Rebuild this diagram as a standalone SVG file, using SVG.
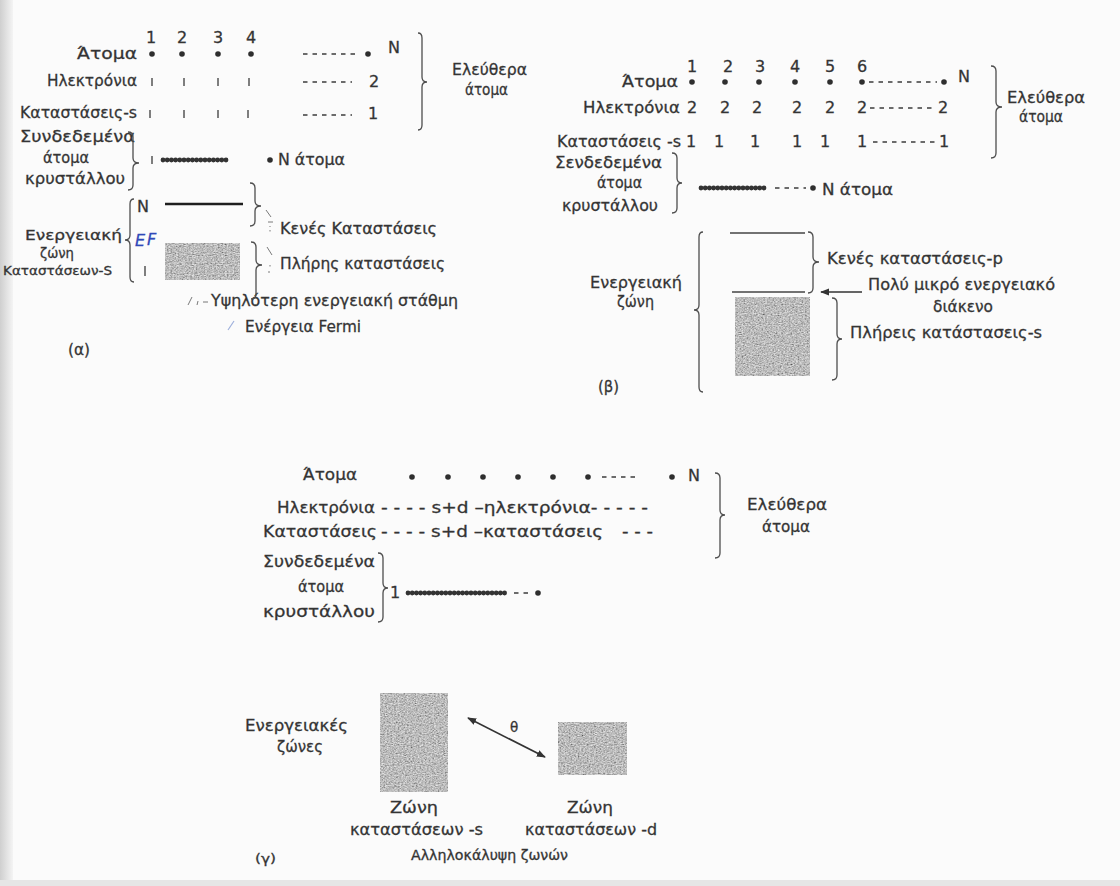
<svg xmlns="http://www.w3.org/2000/svg" width="1120" height="886" viewBox="0 0 1120 886">
  <style>
    text { font-family: "DejaVu Sans", "Liberation Sans", sans-serif; fill: #333; font-size: 16px; stroke: #3a3a3a; stroke-width: 0.3; }
    .sm { font-size: 12px; }
    .md { font-size: 14px; }
    .lab { font-size: 13.5px; }
    .num { text-anchor: middle; }
    .brace { fill: none; stroke: #4d4d4d; stroke-width: 1.3; }
    .tick { stroke: #555; stroke-width: 1.5; }
    .dash { stroke: #3d3d3d; stroke-width: 1.7; stroke-dasharray: 4.5 5; }
    .beads { stroke: #333; stroke-width: 4.8; stroke-linecap: round; stroke-dasharray: 0 4.2; }
    .dot { fill: #2e2e2e; }
    .level { stroke: #444; stroke-width: 1.3; }
    .pencil { stroke: #7a7a7a; stroke-width: 1; fill: none; }
    .ink { fill: #3048b8; stroke: #3048b8; font-style: italic; }
    .band { fill: #808080; }
  </style>
  <defs>
    <filter id="grain" x="0" y="0" width="100%" height="100%">
      <feTurbulence type="fractalNoise" baseFrequency="0.55 0.9" numOctaves="2" seed="7" result="n"/>
      <feColorMatrix in="n" type="saturate" values="0" result="g"/>
      <feComponentTransfer in="g" result="c">
        <feFuncR type="linear" slope="1.2" intercept="-0.1"/>
        <feFuncG type="linear" slope="1.2" intercept="-0.1"/>
        <feFuncB type="linear" slope="1.2" intercept="-0.1"/>
        <feFuncA type="linear" slope="0" intercept="1"/>
      </feComponentTransfer>
      <feComposite in="c" in2="SourceGraphic" operator="in"/>
    </filter>
    <marker id="head" viewBox="0 0 10 10" refX="9" refY="5" markerWidth="9" markerHeight="9" markerUnits="userSpaceOnUse" orient="auto-start-reverse">
      <path d="M0,1 L10,5 L0,9 Z" fill="#333"/>
    </marker>
    <linearGradient id="edge" x1="0" y1="0" x2="1" y2="0">
      <stop offset="0" stop-color="#cfcfcf"/>
      <stop offset="1" stop-color="#f4f4f4"/>
    </linearGradient>
  </defs>

  <!-- paper -->
  <rect x="0" y="0" width="1120" height="886" fill="#fbfbfb"/>
  <rect x="0" y="0" width="13" height="886" fill="url(#edge)"/>
  <rect x="0" y="880" width="1120" height="6" fill="#e6e6e6"/>

  <!-- ===== (α) free atoms of a single-electron s shell ===== -->
  <g id="a-atoms">
    <text class="num" x="151" y="43">1</text>
    <text class="num" x="182" y="43">2</text>
    <text class="num" x="218" y="43">3</text>
    <text class="num" x="251" y="43">4</text>
    <text x="77" y="59" textLength="60" lengthAdjust="spacingAndGlyphs">Άτομα</text>
    <circle class="dot" cx="152" cy="54" r="2.8"/>
    <circle class="dot" cx="182" cy="54" r="2.8"/>
    <circle class="dot" cx="218" cy="54" r="2.8"/>
    <circle class="dot" cx="251" cy="54" r="2.8"/>
    <line class="dash" x1="303" y1="54" x2="358" y2="54"/>
    <circle class="dot" cx="368" cy="54" r="2.8"/>
    <text x="388" y="53">N</text>
  </g>
  <g id="a-electrons">
    <text x="47" y="86" textLength="90" lengthAdjust="spacingAndGlyphs">Ηλεκτρόνια</text>
    <line class="tick" x1="152" y1="78" x2="152" y2="86"/>
    <line class="tick" x1="184" y1="78" x2="184" y2="86"/>
    <line class="tick" x1="218" y1="78" x2="218" y2="86"/>
    <line class="tick" x1="249" y1="78" x2="249" y2="86"/>
    <line class="dash" x1="303" y1="82" x2="352" y2="82"/>
    <text class="num" x="374" y="87">2</text>
  </g>
  <g id="a-states">
    <text x="20" y="118" textLength="117" lengthAdjust="spacingAndGlyphs">Καταστάσεις-s</text>
    <line class="tick" x1="150" y1="110" x2="150" y2="118"/>
    <line class="tick" x1="184" y1="110" x2="184" y2="118"/>
    <line class="tick" x1="218" y1="110" x2="218" y2="118"/>
    <line class="tick" x1="248" y1="110" x2="248" y2="118"/>
    <line class="dash" x1="303" y1="115" x2="352" y2="115"/>
    <text class="num" x="373" y="119">1</text>
  </g>
  <g id="a-free">
    <text x="452" y="75" textLength="75" lengthAdjust="spacingAndGlyphs">Ελεύθερα</text>
    <text x="465" y="95" textLength="43" lengthAdjust="spacingAndGlyphs">άτομα</text>
  </g>
  <g id="a-crystal">
    <text x="20" y="142" textLength="115" lengthAdjust="spacingAndGlyphs">Συνδεδεμένα</text>
    <text x="43" y="163" textLength="46" lengthAdjust="spacingAndGlyphs">άτομα</text>
    <text x="25" y="184" textLength="100" lengthAdjust="spacingAndGlyphs">κρυστάλλου</text>
    <line class="tick" x1="152" y1="156" x2="152" y2="164"/>
    <line class="beads" x1="163" y1="160" x2="228" y2="160"/>
    <circle class="dot" cx="270" cy="160" r="2.8"/>
    <text x="278" y="165" textLength="67" lengthAdjust="spacingAndGlyphs">N άτομα</text>
  </g>
  <g id="a-band">
    <text class="md" x="25" y="240" textLength="97" lengthAdjust="spacingAndGlyphs">Ενεργειακή</text>
    <text class="md" x="40" y="258" textLength="34" lengthAdjust="spacingAndGlyphs">ζώνη</text>
    <text class="sm" x="3" y="275" textLength="109" lengthAdjust="spacingAndGlyphs">Καταστάσεων-S</text>
    <text x="137" y="212">N</text>
    <text class="ink" x="135" y="246" font-size="17">E</text>
    <text class="ink" x="147" y="245" font-size="13">F</text>
    <line class="tick" x1="145" y1="266" x2="145" y2="276"/>
    <line x1="165" y1="204" x2="243" y2="204" stroke="#1e1e1e" stroke-width="2.6"/>
    <rect class="band" x="165" y="243" width="75" height="37" filter="url(#grain)"/>
  </g>
  <g id="a-empty">
    <path class="pencil" d="M266 210 L271 217 M268 222 L273 222 M270 226 L270 227 M270 230 L270 231.5"/>
    <text x="280" y="234" textLength="157" lengthAdjust="spacingAndGlyphs">Κενές Καταστάσεις</text>
  </g>
  <g id="a-full">
    <path class="pencil" d="M267 247 L272 255 M270 265 L270 266.5 M269 271 L269 273"/>
    <text x="280" y="269" textLength="165" lengthAdjust="spacingAndGlyphs">Πλήρης καταστάσεις</text>
  </g>
  <g id="a-notes">
    <path class="pencil" d="M188 305 L192 297 M198 301 L197 305" stroke="#7d7f93"/>
    <line x1="203" y1="302" x2="208" y2="302" stroke="#777" stroke-width="1"/>
    <text x="211" y="306" textLength="247" lengthAdjust="spacingAndGlyphs">Υψηλότερη ενεργειακή στάθμη</text>
    <line x1="228" y1="330" x2="234" y2="321" stroke="#9fb0dc" stroke-width="1.2"/>
    <text x="245" y="332" textLength="116" lengthAdjust="spacingAndGlyphs">Ενέργεια Fermi</text>
    <text x="68" y="355" textLength="22" lengthAdjust="spacingAndGlyphs">(α)</text>
  </g>

  <!-- ===== (β) two electrons per atom, overlapping p band ===== -->
  <g id="b-atoms">
    <text class="num" x="692" y="72">1</text>
    <text class="num" x="728" y="72">2</text>
    <text class="num" x="760" y="72">3</text>
    <text class="num" x="795" y="72">4</text>
    <text class="num" x="830" y="72">5</text>
    <text class="num" x="862" y="72">6</text>
    <text x="622" y="87" textLength="56" lengthAdjust="spacingAndGlyphs">Άτομα</text>
    <circle class="dot" cx="692" cy="82" r="2.8"/>
    <circle class="dot" cx="725" cy="82" r="2.8"/>
    <circle class="dot" cx="759" cy="82" r="2.8"/>
    <circle class="dot" cx="795" cy="82" r="2.8"/>
    <circle class="dot" cx="830" cy="82" r="2.8"/>
    <circle class="dot" cx="862" cy="82" r="2.8"/>
    <line class="dash" x1="869" y1="82" x2="937" y2="82"/>
    <circle class="dot" cx="944" cy="82" r="2.8"/>
    <text x="958" y="82">N</text>
  </g>
  <g id="b-electrons">
    <text x="583" y="113" textLength="97" lengthAdjust="spacingAndGlyphs">Ηλεκτρόνια</text>
    <text class="num" x="692" y="113">2</text>
    <text class="num" x="725" y="113">2</text>
    <text class="num" x="757" y="113">2</text>
    <text class="num" x="797" y="113">2</text>
    <text class="num" x="830" y="113">2</text>
    <text class="num" x="862" y="113">2</text>
    <line class="dash" x1="870" y1="108" x2="935" y2="108"/>
    <text class="num" x="943" y="113">2</text>
  </g>
  <g id="b-states">
    <text x="557" y="147" textLength="124" lengthAdjust="spacingAndGlyphs">Καταστάσεις -s</text>
    <text class="num" x="691" y="147">1</text>
    <text class="num" x="719" y="147">1</text>
    <text class="num" x="755" y="147">1</text>
    <text class="num" x="797" y="147">1</text>
    <text class="num" x="825" y="147">1</text>
    <text class="num" x="862" y="147">1</text>
    <line class="dash" x1="873" y1="142" x2="935" y2="142"/>
    <text class="num" x="944" y="147">1</text>
  </g>
  <g id="b-free">
    <text x="1007" y="103" textLength="78" lengthAdjust="spacingAndGlyphs">Ελεύθερα</text>
    <text x="1019" y="122" textLength="44" lengthAdjust="spacingAndGlyphs">άτομα</text>
  </g>
  <g id="b-crystal">
    <text x="555" y="168" textLength="107" lengthAdjust="spacingAndGlyphs">Σενδεδεμένα</text>
    <text x="597" y="188" textLength="45" lengthAdjust="spacingAndGlyphs">άτομα</text>
    <text x="562" y="211" textLength="96" lengthAdjust="spacingAndGlyphs">κρυστάλλου</text>
    <line class="beads" x1="701" y1="188" x2="767" y2="188"/>
    <line class="dash" x1="775" y1="188" x2="806" y2="188"/>
    <circle class="dot" cx="813" cy="188" r="2.8"/>
    <text x="822" y="195" textLength="71" lengthAdjust="spacingAndGlyphs">N άτομα</text>
  </g>
  <g id="b-band">
    <text x="590" y="288" textLength="92" lengthAdjust="spacingAndGlyphs">Ενεργειακή</text>
    <text x="617" y="307" textLength="37" lengthAdjust="spacingAndGlyphs">ζώνη</text>
    <line class="level" x1="730" y1="233" x2="805" y2="233"/>
    <line class="level" x1="732" y1="292" x2="805" y2="292"/>
    <rect class="band" x="735" y="297" width="75" height="79" filter="url(#grain)"/>
    <text x="598" y="392" textLength="21" lengthAdjust="spacingAndGlyphs">(β)</text>
  </g>
  <g id="b-empty">
    <text x="827" y="264" textLength="176" lengthAdjust="spacingAndGlyphs">Κενές καταστάσεις-p</text>
  </g>
  <g id="b-gap">
    <text x="868" y="290" textLength="187" lengthAdjust="spacingAndGlyphs">Πολύ μικρό ενεργειακό</text>
    <text x="933" y="312" textLength="60" lengthAdjust="spacingAndGlyphs">διάκενο</text>
  </g>
  <g id="b-full">
    <text x="850" y="338" textLength="192" lengthAdjust="spacingAndGlyphs">Πλήρεις κατάστασεις-s</text>
  </g>

  <!-- ===== (γ) s and d bands ===== -->
  <g id="c-atoms">
    <text x="303" y="480" textLength="54" lengthAdjust="spacingAndGlyphs">Άτομα</text>
    <circle class="dot" cx="412" cy="477" r="2.8"/>
    <circle class="dot" cx="448" cy="477" r="2.8"/>
    <circle class="dot" cx="483" cy="477" r="2.8"/>
    <circle class="dot" cx="518" cy="477" r="2.8"/>
    <circle class="dot" cx="553" cy="477" r="2.8"/>
    <circle class="dot" cx="588" cy="477" r="2.8"/>
    <line class="dash" x1="602" y1="477" x2="638" y2="477"/>
    <circle class="dot" cx="672" cy="477" r="2.8"/>
    <text x="688" y="481">N</text>
  </g>
  <g id="c-electrons">
    <text x="277" y="513" textLength="98" lengthAdjust="spacingAndGlyphs">Ηλεκτρόνια</text>
    <text x="381" y="513" textLength="267" lengthAdjust="spacingAndGlyphs">- - - - s+d –ηλεκτρόνια- - - - -</text>
  </g>
  <g id="c-states">
    <text x="263" y="537" textLength="114" lengthAdjust="spacingAndGlyphs">Καταστάσεις</text>
    <text x="381" y="537" textLength="222" lengthAdjust="spacingAndGlyphs">- - - - s+d –καταστάσεις</text>
    <text x="622" y="537" textLength="31" lengthAdjust="spacingAndGlyphs">- - -</text>
  </g>
  <g id="c-free">
    <text x="747" y="510" textLength="80" lengthAdjust="spacingAndGlyphs">Ελεύθερα</text>
    <text x="762" y="532" textLength="48" lengthAdjust="spacingAndGlyphs">άτομα</text>
  </g>
  <g id="c-crystal">
    <text x="263" y="567" textLength="112" lengthAdjust="spacingAndGlyphs">Συνδεδεμένα</text>
    <text x="298" y="592" textLength="46" lengthAdjust="spacingAndGlyphs">άτομα</text>
    <text x="263" y="617" textLength="112" lengthAdjust="spacingAndGlyphs">κρυστάλλου</text>
    <text class="num" x="395" y="598">1</text>
    <line class="beads" x1="408" y1="593" x2="507" y2="593"/>
    <line class="dash" x1="514" y1="593" x2="532" y2="593"/>
    <circle class="dot" cx="538" cy="593" r="2.8"/>
  </g>
  <g id="c-bands">
    <text x="245" y="731" textLength="103" lengthAdjust="spacingAndGlyphs">Ενεργειακές</text>
    <text x="277" y="752" textLength="46" lengthAdjust="spacingAndGlyphs">ζώνες</text>
  </g>
  <g id="c-s-band">
    <rect class="band" x="380" y="693" width="68" height="99" filter="url(#grain)"/>
    <text x="390" y="813" textLength="48" lengthAdjust="spacingAndGlyphs">Ζώνη</text>
    <text x="350" y="835" textLength="133" lengthAdjust="spacingAndGlyphs">καταστάσεων -s</text>
  </g>
  <g id="c-d-band">
    <rect class="band" x="558" y="722" width="69" height="53" filter="url(#grain)"/>
    <text x="567" y="813" textLength="46" lengthAdjust="spacingAndGlyphs">Ζώνη</text>
    <text x="525" y="835" textLength="132" lengthAdjust="spacingAndGlyphs">καταστάσεων -d</text>
  </g>
  <g id="c-caption">
    <text class="lab" x="411" y="860" textLength="157" lengthAdjust="spacingAndGlyphs">Αλληλοκάλυψη ζωνών</text>
    <text class="sm" x="255" y="863" textLength="21" lengthAdjust="spacingAndGlyphs">(γ)</text>
    <text class="lab" x="510" y="732">θ</text>
  </g>

  <!-- connectors: braces and arrows -->
  <g id="connectors">
    <!-- (α) -->
    <path class="brace" d="M418 33 Q422 33 422 38 L422 77 Q422 82 427 82 Q422 82 422 87 L422 125 Q422 130 418 130"/>
    <path class="brace" d="M128 132 Q133 132 133 137 L133 158 Q133 163 139 163 Q133 163 133 168 L133 185 Q133 190 128 190"/>
    <path class="brace" d="M134 199 Q130 199 130 204 L130 235 Q130 240 125 240 Q130 240 130 245 L130 277 Q130 282 134 282"/>
    <path class="brace" d="M250 183 Q255 183 255 188 L255 201 Q255 206 261 206 Q255 206 255 211 L255 221 Q255 226 250 226"/>
    <path class="brace" d="M251 242 Q256 242 256 247 L256 260 Q256 265 262 265 Q256 265 256 270 L256 294 Q256 299 251 299"/>
    <!-- (β) -->
    <path class="brace" d="M991 66 Q996 66 996 71 L996 102 Q996 107 1002 107 Q996 107 996 112 L996 153 Q996 158 991 158"/>
    <path class="brace" d="M672 153 Q677 153 677 158 L677 178 Q677 183 682 183 Q677 183 677 188 L677 208 Q677 213 672 213"/>
    <path class="brace" d="M703 232 Q699 232 699 237 L699 305 Q699 310 694 310 Q699 310 699 315 L699 387 Q699 392 703 392"/>
    <path class="brace" d="M808 232 Q813 232 813 237 L813 257 Q813 262 819 262 Q813 262 813 267 L813 288 Q813 293 808 293"/>
    <path class="brace" d="M832 298 Q837 298 837 303 L837 334 Q837 339 842 339 Q837 339 837 344 L837 375 Q837 380 832 380"/>
    <line x1="862" y1="292" x2="821" y2="292" stroke="#333" stroke-width="1.3" marker-end="url(#head)"/>
    <!-- (γ) -->
    <path class="brace" d="M715 473 Q720 473 720 478 L720 510 Q720 515 725 515 Q720 515 720 520 L720 553 Q720 558 715 558"/>
    <path class="brace" d="M378 553 Q383 553 383 558 L383 583 Q383 588 388 588 Q383 588 383 593 L383 617 Q383 622 378 622"/>
    <line x1="468" y1="718" x2="545" y2="757" stroke="#333" stroke-width="1.6" marker-start="url(#head)" marker-end="url(#head)"/>
  </g>
</svg>
